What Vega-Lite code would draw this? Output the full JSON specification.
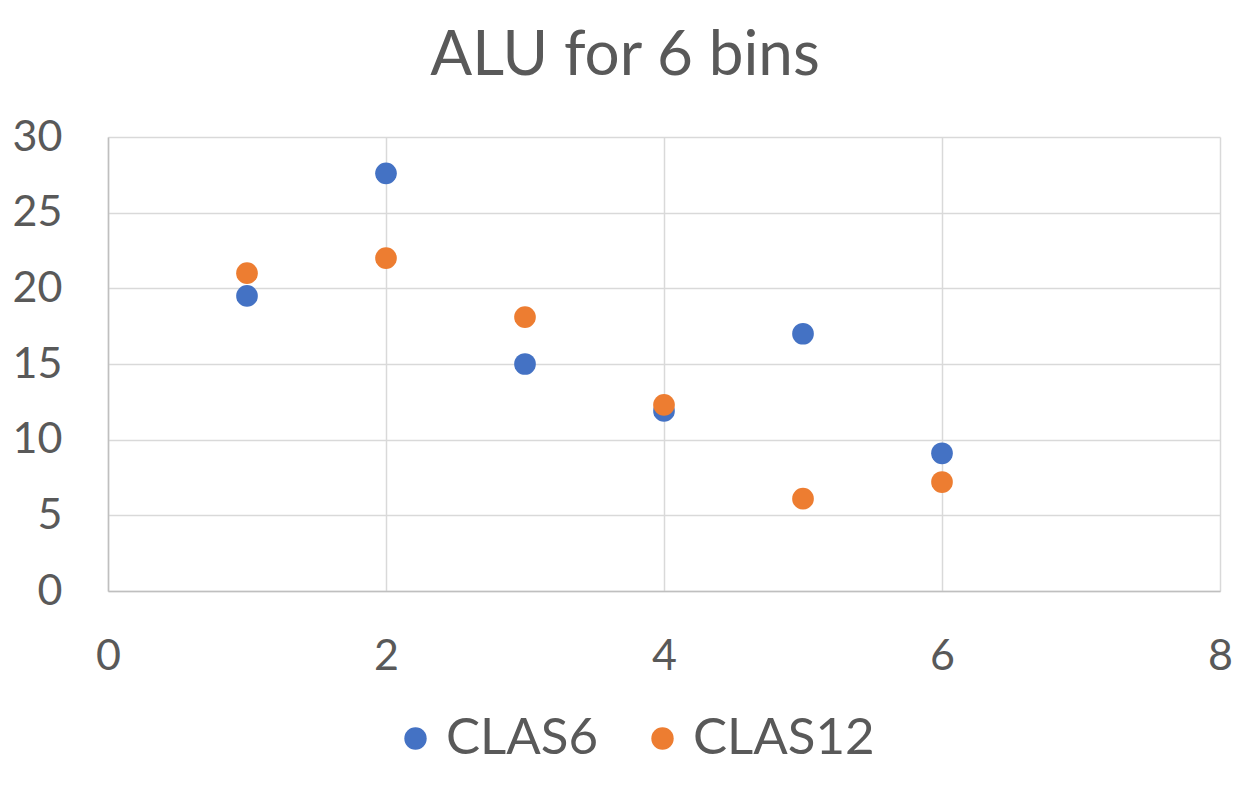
{
  "$schema": "https://vega.github.io/schema/vega-lite/v6.json",
  "width": 1112,
  "height": 454,
  "autosize": "none",
  "padding": {"left": 108, "top": 137, "right": 36, "bottom": 195},
  "background": "white",
  "title": {
    "text": "ALU for 6 bins",
    "font": "Lato",
    "fontSize": 62,
    "fontWeight": "normal",
    "color": "#595959",
    "anchor": "middle",
    "frame": "group",
    "baseline": "alphabetic",
    "dx": -39,
    "offset": -21
  },
  "data": {
    "values": [
      {"bin": 1, "alu": 19.5, "series": "CLAS6"},
      {"bin": 2, "alu": 27.6, "series": "CLAS6"},
      {"bin": 3, "alu": 15.0, "series": "CLAS6"},
      {"bin": 4, "alu": 11.9, "series": "CLAS6"},
      {"bin": 5, "alu": 17.0, "series": "CLAS6"},
      {"bin": 6, "alu": 9.1, "series": "CLAS6"},
      {"bin": 1, "alu": 21.0, "series": "CLAS12"},
      {"bin": 2, "alu": 22.0, "series": "CLAS12"},
      {"bin": 3, "alu": 18.1, "series": "CLAS12"},
      {"bin": 4, "alu": 12.3, "series": "CLAS12"},
      {"bin": 5, "alu": 6.1, "series": "CLAS12"},
      {"bin": 6, "alu": 7.2, "series": "CLAS12"}
    ]
  },
  "mark": {"type": "circle", "size": 470, "opacity": 1},
  "encoding": {
    "x": {
      "field": "bin",
      "type": "quantitative",
      "scale": {"domain": [0, 8], "nice": false},
      "axis": {
        "title": null,
        "values": [0, 2, 4, 6, 8],
        "grid": true,
        "gridColor": "#d9d9d9",
        "gridWidth": 1.5,
        "domain": true,
        "domainColor": "#bfbfbf",
        "domainWidth": 1.5,
        "ticks": false,
        "labelFont": "Lato",
        "labelFontSize": 43,
        "labelColor": "#595959",
        "labelPadding": 44,
        "labelFlush": false
      }
    },
    "y": {
      "field": "alu",
      "type": "quantitative",
      "scale": {"domain": [0, 30], "nice": false},
      "axis": {
        "title": null,
        "values": [0, 5, 10, 15, 20, 25, 30],
        "grid": true,
        "gridColor": "#d9d9d9",
        "gridWidth": 1.5,
        "domain": true,
        "domainColor": "#bfbfbf",
        "domainWidth": 1.5,
        "ticks": false,
        "labelFont": "Lato",
        "labelFontSize": 43,
        "labelColor": "#595959",
        "labelPadding": 46,
        "labelFlush": false
      }
    },
    "color": {
      "field": "series",
      "type": "nominal",
      "sort": ["CLAS6", "CLAS12"],
      "scale": {"domain": ["CLAS6", "CLAS12"], "range": ["#4472C4", "#ED7D31"]},
      "legend": {
        "title": null,
        "orient": "none",
        "direction": "horizontal",
        "legendX": 282,
        "legendY": 576,
        "gridAlign": "none",
        "symbolType": "circle",
        "symbolSize": 500,
        "symbolOpacity": 1,
        "labelFont": "Lato",
        "labelFontSize": 51,
        "labelColor": "#595959",
        "labelOffset": 5,
        "labelLimit": 0,
        "columnPadding": 38,
        "padding": 0
      }
    }
  },
  "config": {"view": {"stroke": null}}
}
